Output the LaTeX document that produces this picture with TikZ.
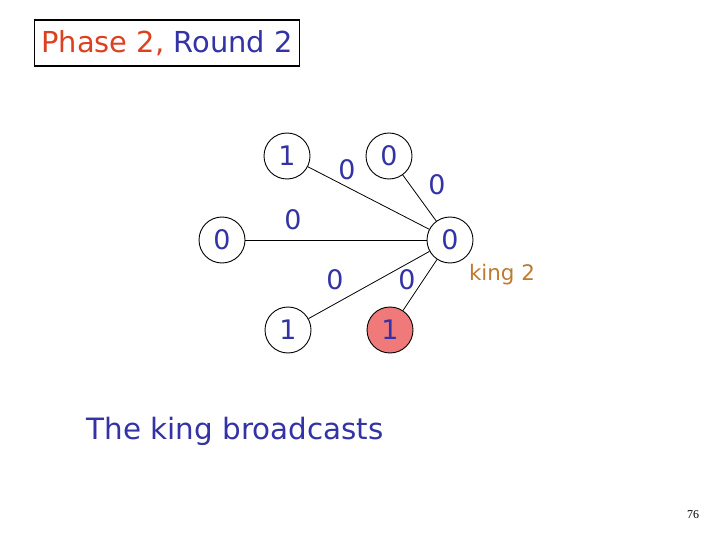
\documentclass[tikz,border=0pt]{standalone}
\usepackage{fontspec}
\setmainfont{DejaVu Sans}
\newfontfamily\pgfont{Liberation Serif}
\usepackage{tikz}
\definecolor{ink}{HTML}{3333A6}
\definecolor{phase}{HTML}{DC4020}
\definecolor{kingc}{HTML}{C07A30}
\definecolor{bad}{HTML}{F07A7A}

\tikzset{
  proc/.style={circle, draw, line width=0.9bp, minimum size=46bp, inner sep=0pt,
    font=\fontsize{27}{27}\selectfont, text=ink},
  msg/.style={font=\fontsize{27}{27}\selectfont, text=ink}
}

\begin{document}
\begin{tikzpicture}[x=1bp, y=-1bp]
  \useasboundingbox (0,0) rectangle (720,540);
  \node[draw, line width=1.2bp, minimum width=265bp, minimum height=46bp, inner sep=0pt,
    font=\fontsize{29}{29}\selectfont] (title) at (167,43)
    {\textcolor{phase}{Phase 2,} \textcolor{ink}{Round 2}};
  % processors, the king is k
  \foreach \n/\x/\y/\v in {a/287/156/1, b/389/156/0, c/222/240/0, d/288/330/1}
    \node[proc] (\n) at (\x,\y) {\v};
  \node[proc, fill=bad] (e) at (390,330) {1};
  \node[proc] (k) at (450,240) {0};
  \foreach \n in {a,b,c,d,e} \draw[line width=0.8bp] (k) -- (\n);
  % broadcast values
  \foreach \x/\y [count=\i] in {347/170, 437/185, 293/220, 335/280, 407/280}
    \node[msg] (m\i) at (\x,\y) {0};
  \node[font=\fontsize{21.5}{21.5}\selectfont, text=kingc] (kl) at (502,275) {king 2};
  \node[font=\fontsize{29.5}{29.5}\selectfont, text=ink] (cap) at (235,431) {The king broadcasts};
  \node[font=\pgfont\fontsize{12}{12}\selectfont] (pg) at (693,515) {76};
\end{tikzpicture}
\end{document}
